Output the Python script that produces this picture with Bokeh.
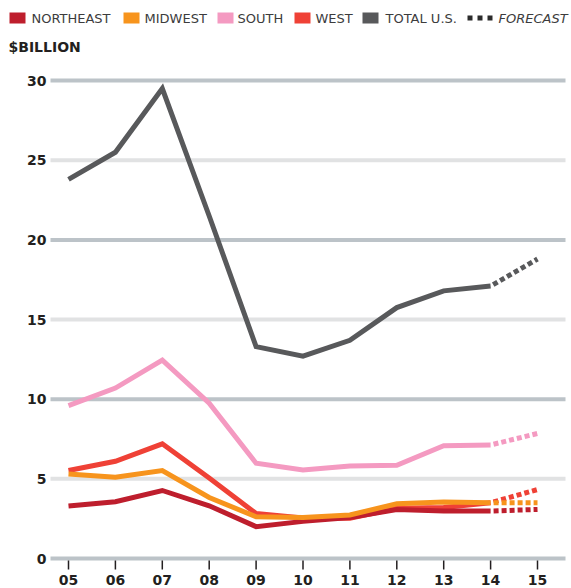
from bokeh.plotting import figure
from bokeh.models import Range1d
from bokeh.core.properties import value
from bokeh.embed import file_html
from bokeh.resources import INLINE

# ---------------- data ----------------
years = [5, 6, 7, 8, 9, 10, 11, 12, 13, 14, 15]
year_labels = ["05", "06", "07", "08", "09", "10", "11", "12", "13", "14", "15"]
last_actual_index = 9  # 2014 is the last actual value, 2015 is forecast

northeast = [3.29, 3.56, 4.27, 3.31, 2.00, 2.33, 2.58, 3.08, 2.98, 2.98, 3.08]
midwest = [5.31, 5.10, 5.52, 3.83, 2.62, 2.58, 2.73, 3.44, 3.54, 3.50, 3.50]
south = [9.60, 10.70, 12.45, 9.75, 5.98, 5.56, 5.80, 5.85, 7.08, 7.13, 7.85]
west = [5.52, 6.10, 7.20, 5.05, 2.82, 2.55, 2.52, 3.15, 3.20, 3.50, 4.33]
total_us = [23.8, 25.5, 29.5, 21.5, 13.3, 12.7, 13.7, 15.75, 16.8, 17.1, 18.8]

y_ticks = [0, 5, 10, 15, 20, 25, 30]
y_tick_labels = ["0", "5", "10", "15", "20", "25", "30"]

legend_labels = ["NORTHEAST", "MIDWEST", "SOUTH", "WEST", "TOTAL U.S."]
forecast_label = "FORECAST"
unit_label = "$BILLION"

# ---------------- styles ----------------
colors = {
    "NORTHEAST": "#be1e2d",
    "MIDWEST": "#f7941d",
    "SOUTH": "#f49ac1",
    "WEST": "#ef4136",
    "TOTAL U.S.": "#58595b",
}
grid_major = "#bcc3c8"
grid_minor = "#e1e2e3"
text_dark = "#231f20"
legend_text = "#3c3c3d"

W, H = 571, 588
X05, XPX = 68.0, 46.9   # pixel x of year 05, pixels per year
Y0, YPX = 558.0, 15.93  # pixel y (from top) of value 0, pixels per unit


def fx(px):
    return 5 + (px - X05) / XPX


def fy(py):
    return (Y0 - py) / YPX


p = figure(
    width=W, height=H,
    x_range=Range1d(fx(0), fx(W)),
    y_range=Range1d(fy(H), fy(0)),
    output_backend="svg",
    toolbar_location=None,
    x_axis_location=None,
    y_axis_location=None,
    min_border=0,
)
p.outline_line_color = None
p.grid.visible = False
p.background_fill_color = "white"
p.border_fill_color = "white"

# ---------------- gridlines & y labels ----------------
grid_colors = [grid_major if (t % 10 == 0) else grid_minor for t in y_ticks]
p.segment(x0=[fx(50)] * len(y_ticks), x1=[fx(565)] * len(y_ticks),
          y0=y_ticks, y1=y_ticks, line_color=grid_colors, line_width=4,
          line_cap="butt")
p.text(x=[fx(46)] * len(y_ticks), y=y_ticks, text=y_tick_labels,
       text_align="right", text_baseline="middle",
       text_font=value("DejaVu Sans"), text_font_style="bold",
       text_font_size="14px", text_color=text_dark)

# ---------------- x ticks & labels ----------------
p.segment(x0=years, x1=years, y0=[fy(Y0 + 2)] * len(years),
          y1=[fy(Y0 + 11)] * len(years), line_color=text_dark,
          line_width=1.5)
p.text(x=years, y=[fy(Y0 + 21)] * len(years), text=year_labels,
       text_align="center", text_baseline="middle",
       text_font=value("DejaVu Sans"), text_font_style="bold",
       text_font_size="14px", text_color=text_dark)

# ---------------- series ----------------
series = {
    "NORTHEAST": northeast,
    "MIDWEST": midwest,
    "SOUTH": south,
    "WEST": west,
    "TOTAL U.S.": total_us,
}
draw_order = ["WEST", "NORTHEAST", "MIDWEST", "SOUTH", "TOTAL U.S."]
k = last_actual_index
for name in draw_order:
    vals = series[name]
    c = colors[name]
    p.line(years[:k + 1], vals[:k + 1], line_color=c, line_width=5,
           line_join="miter")
    p.line(years[k:], vals[k:], line_color=c, line_width=5,
           line_dash="5 3", line_dash_offset=5, line_cap="butt")

# ---------------- legend (top) ----------------
LEG_Y = 17.5
square_left = [9, 123, 217, 294, 362]
text_left = [31, 144, 237, 315, 385]
p.rect(x=[fx(s + 8) for s in square_left], y=[fy(LEG_Y)] * 5,
       width=16, height=11, width_units="screen", height_units="screen",
       fill_color=[colors[n] for n in legend_labels], line_color=None)
p.text(x=[fx(t) for t in text_left], y=[fy(LEG_Y)] * 5, text=legend_labels,
       text_align="left", text_baseline="middle",
       text_font=value("DejaVu Sans"), text_font_size="13px",
       text_color=legend_text)
p.segment(x0=[fx(467)], x1=[fx(492)], y0=[fy(LEG_Y)], y1=[fy(LEG_Y)],
          line_color="#2b2b2b", line_width=5, line_dash="5 5",
          line_cap="butt")
p.text(x=[fx(498)], y=[fy(LEG_Y)], text=[forecast_label],
       text_align="left", text_baseline="middle",
       text_font=value("DejaVu Sans"), text_font_style="italic",
       text_font_size="13px", text_color=legend_text)

# unit label
p.text(x=[fx(8)], y=[fy(46)], text=[unit_label],
       text_align="left", text_baseline="middle",
       text_font=value("DejaVu Sans"), text_font_style="bold",
       text_font_size="14px", text_color=text_dark)

open("out.html", "w").write(file_html(p, INLINE))
